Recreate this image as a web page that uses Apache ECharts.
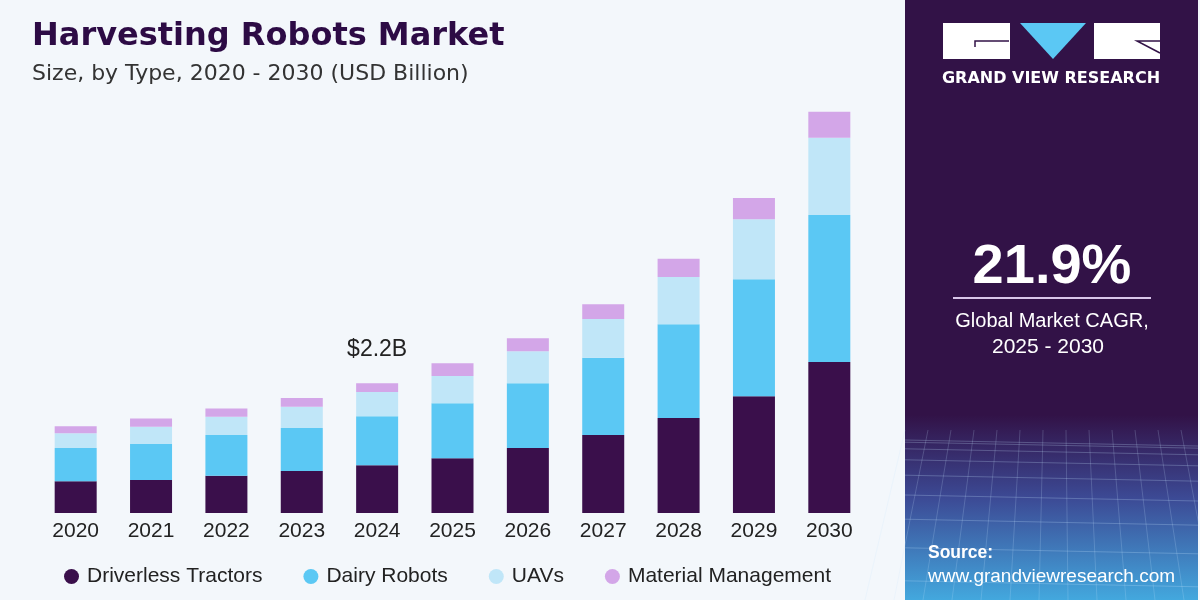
<!DOCTYPE html>
<html>
<head>
<meta charset="utf-8">
<script src="https://cdn.jsdelivr.net/npm/echarts@6/dist/echarts.min.js"></script>
<style>
  html, body { margin: 0; padding: 0; background: #f3f7fb; }
  #chart { width: 1200px; height: 600px; }
</style>
</head>
<body>
<div id="chart"></div>
<script>
// 数据（USD Billion，按图读数估计）
const years = ["2020", "2021", "2022", "2023", "2024", "2025", "2026", "2027", "2028", "2029", "2030"];
const driverlessTractors = [0.54, 0.56, 0.63, 0.71, 0.81, 0.93, 1.10, 1.32, 1.61, 1.98, 2.56];
const dairyRobots        = [0.56, 0.61, 0.69, 0.73, 0.83, 0.93, 1.10, 1.31, 1.59, 1.98, 2.49];
const uavs               = [0.25, 0.29, 0.31, 0.36, 0.41, 0.46, 0.54, 0.66, 0.80, 1.02, 1.31];
const materialMgmt       = [0.12, 0.14, 0.14, 0.15, 0.15, 0.22, 0.22, 0.25, 0.31, 0.36, 0.44];
const calloutYear = "2024", calloutText = "$2.2B";

const COLORS = ["#3a0f4b", "#5bc8f4", "#c0e6f8", "#d3a6e8"];
const PANEL = "#321247";
const SANS = "'Liberation Sans', Arial, sans-serif";
const chart = echarts.init(document.getElementById("chart"), null, { renderer: "canvas" });

const mk = (name, data, i) => ({
  name, type: "bar", stack: "total", barWidth: 42,
  itemStyle: { color: COLORS[i] },
  emphasis: { disabled: true },
  data: data.slice()
});
const series = [
  mk("Driverless Tractors", driverlessTractors, 0),
  mk("Dairy Robots", dairyRobots, 1),
  mk("UAVs", uavs, 2),
  mk("Material Management", materialMgmt, 3),
];
// 2024 顶部标注
const ci = years.indexOf(calloutYear);
series[3].data[ci] = {
  value: materialMgmt[ci],
  label: { show: true, position: "top", distance: 22, formatter: calloutText,
           fontSize: 23, color: "#222", fontFamily: SANS }
};

// 右侧面板底部网格装饰线
const gridLines = [];
for (let k = 0; k < 9; k++) {
  const y = 440 + k * k * 2.2;
  gridLines.push({ type: "line", shape: { x1: 905, y1: y, x2: 1198, y2: y + 6 },
    style: { stroke: "rgba(200,230,255,0.25)", lineWidth: 1 } });
}
for (let k = 0; k < 14; k++) {
  const x = 905 + k * 23;
  gridLines.push({ type: "line", shape: { x1: x, y1: 430, x2: x - 40 + k * 6, y2: 600 },
    style: { stroke: "rgba(200,230,255,0.2)", lineWidth: 1 } });
}

chart.setOption({
  backgroundColor: "#f3f7fb",
  animation: false,
  grid: { left: 38, right: 333, top: 100, bottom: 87 },
  xAxis: {
    type: "category", data: years,
    axisLine: { show: false }, axisTick: { show: false },
    axisLabel: { color: "#222", fontSize: 21, margin: 8, fontFamily: SANS }
  },
  yAxis: { type: "value", min: 0, max: 7, show: false, splitLine: { show: false } },
  legend: {
    left: 59, top: 561, itemWidth: 15, itemHeight: 15, itemGap: 41, icon: "circle",
    textStyle: { color: "#222", fontSize: 21, fontFamily: SANS, padding: [0, 0, 0, 3] },
    data: series.map(s => s.name)
  },
  series,
  graphic: [
    { type: "text", left: 32, top: 21, style: { text: "Harvesting Robots Market", fill: "#2d0b45",
      font: "bold 32px 'DejaVu Sans', sans-serif" } },
    { type: "text", left: 32, top: 63, style: { text: "Size, by Type, 2020 - 2030 (USD Billion)", fill: "#333",
      font: "22px 'DejaVu Sans', sans-serif" } },
    // 右侧面板
    { type: "rect", shape: { x: 905, y: 0, width: 293, height: 600 }, style: { fill: PANEL } },
    { type: "rect", shape: { x: 905, y: 415, width: 293, height: 185 }, style: {
      fill: new echarts.graphic.LinearGradient(0, 0, 0, 1, [
        { offset: 0, color: PANEL }, { offset: 0.45, color: "#3c4a95" }, { offset: 1, color: "#43a8de" }]) } },
    ...gridLines,
    // logo
    { type: "rect", shape: { x: 943, y: 23, width: 67, height: 36 }, style: { fill: "#fff" } },
    { type: "polyline", shape: { points: [[975, 47], [975, 41], [1009, 41]] }, style: { stroke: PANEL, lineWidth: 1.5, fill: null } },
    { type: "polygon", shape: { points: [[1020, 23], [1086, 23], [1053, 59]] }, style: { fill: "#5bc8f4" } },
    { type: "rect", shape: { x: 1094, y: 23, width: 66, height: 36 }, style: { fill: "#fff" } },
    { type: "polyline", shape: { points: [[1160, 41], [1137, 41], [1160, 53]] }, style: { stroke: PANEL, lineWidth: 1.5, fill: null } },
    { type: "text", x: 1051, y: 79, style: { text: "GRAND VIEW RESEARCH", fill: "#fff", align: "center", verticalAlign: "middle",
      font: "bold 16px 'DejaVu Sans', sans-serif" } },
    { type: "text", x: 1052, y: 268, style: { text: "21.9%", fill: "#fff", align: "center", verticalAlign: "middle",
      font: "bold 56px " + SANS } },
    { type: "line", shape: { x1: 953, y1: 298, x2: 1151, y2: 298 }, style: { stroke: "#d9c6ea", lineWidth: 2 } },
    { type: "text", x: 1052, y: 321, style: { text: "Global Market CAGR,", fill: "#fff", align: "center", verticalAlign: "middle",
      font: "20px " + SANS } },
    { type: "text", x: 1048, y: 347, style: { text: "2025 - 2030", fill: "#fff", align: "center", verticalAlign: "middle",
      font: "21px " + SANS } },
    { type: "text", x: 928, y: 553, style: { text: "Source:", fill: "#fff", verticalAlign: "middle",
      font: "bold 17.5px " + SANS } },
    { type: "text", x: 928, y: 577, style: { text: "www.grandviewresearch.com", fill: "#fff", verticalAlign: "middle",
      font: "19px " + SANS } }
  ]
});
</script>
</body>
</html>
